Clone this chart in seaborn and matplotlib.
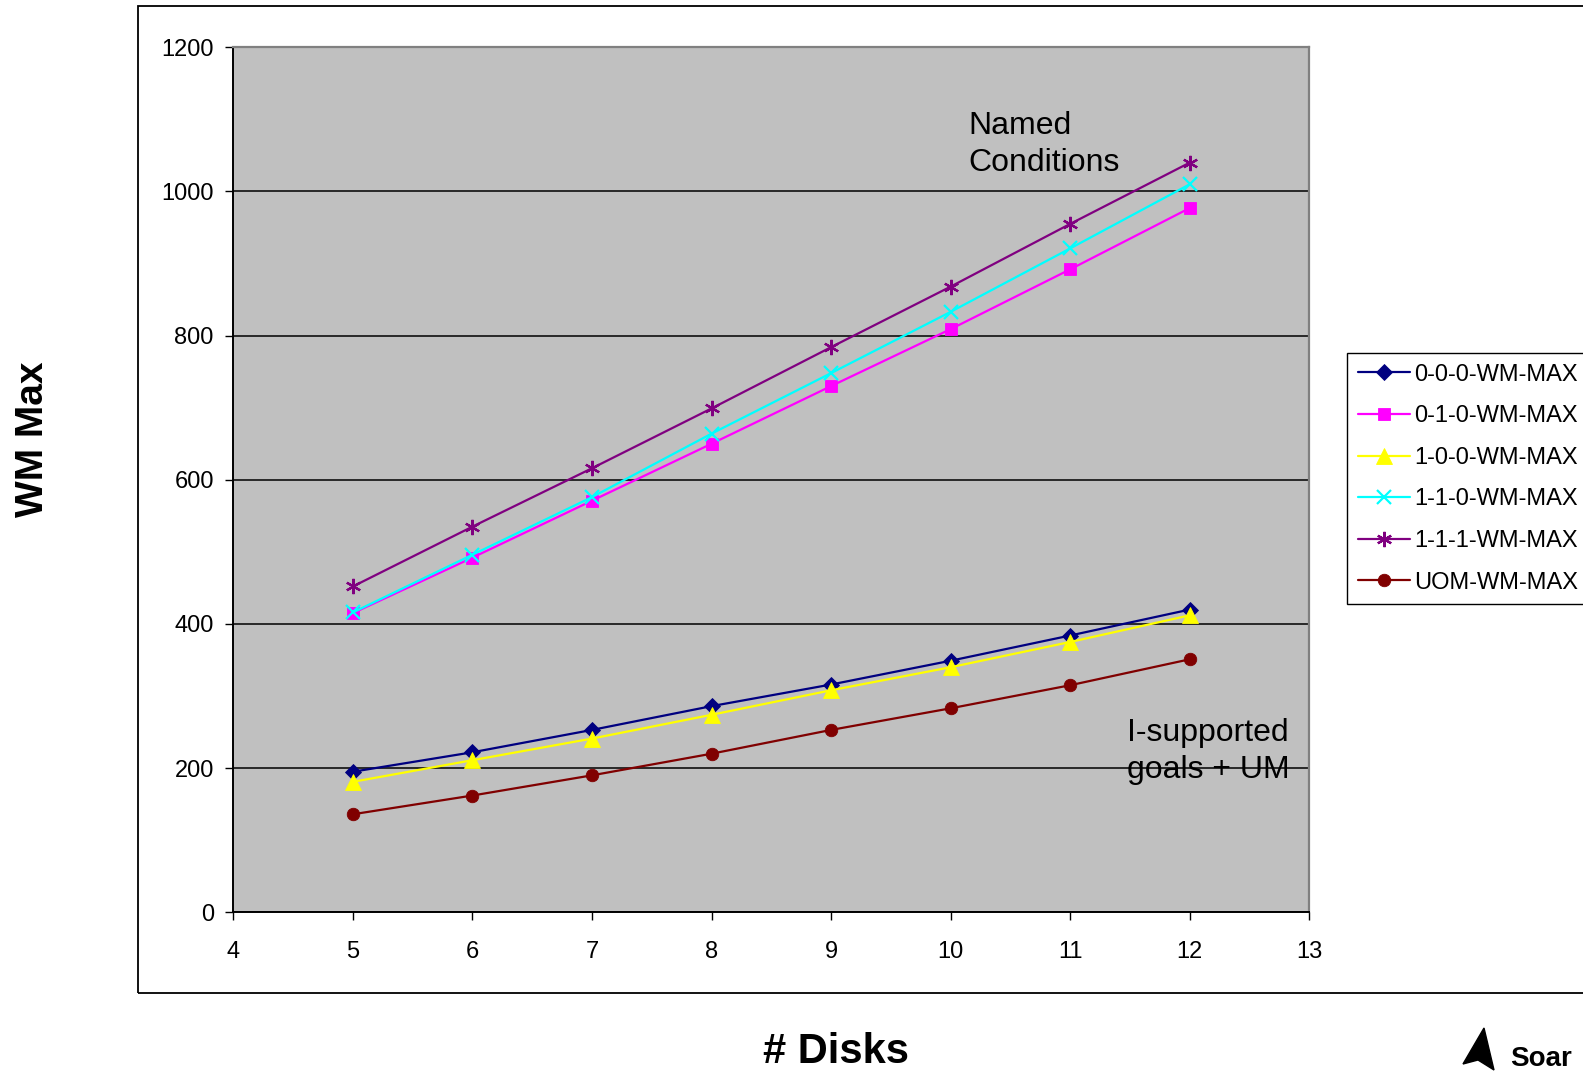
import matplotlib
matplotlib.use("Agg")
import matplotlib.pyplot as plt
import seaborn as sns
import pandas as pd
from matplotlib.patches import Rectangle, Polygon

# ---- data ----
disks = [5, 6, 7, 8, 9, 10, 11, 12]
wm_000 = [195, 222, 253, 286, 316, 349, 384, 420]
wm_010 = [415, 492, 571, 650, 730, 809, 892, 977]
wm_100 = [181, 211, 241, 274, 308, 340, 375, 412]
wm_110 = [416, 496, 576, 664, 748, 833, 921, 1010]
wm_111 = [452, 535, 616, 699, 784, 868, 955, 1040]
wm_uom = [136, 162, 190, 220, 253, 283, 315, 351]

series_labels = ["0-0-0-WM-MAX", "0-1-0-WM-MAX", "1-0-0-WM-MAX",
                 "1-1-0-WM-MAX", "1-1-1-WM-MAX", "UOM-WM-MAX"]
series_values = [wm_000, wm_010, wm_100, wm_110, wm_111, wm_uom]
x_ticks = [4, 5, 6, 7, 8, 9, 10, 11, 12, 13]
y_ticks = [0, 200, 400, 600, 800, 1000, 1200]

colors = ["#000080", "#FF00FF", "#FFFF00", "#00FFFF", "#800080", "#800000"]
markers = ["D", "s", "^", "x", (6, 2, 0), "o"]
msizes = [8.5, 9, 11, 10, 11, 9]

sns.set_style("white")
plt.rcParams["font.family"] = ["Liberation Sans", "DejaVu Sans"]
plt.rcParams["text.color"] = "black"
plt.rcParams["axes.labelcolor"] = "black"
plt.rcParams["xtick.color"] = "black"
plt.rcParams["ytick.color"] = "black"

W, H = 1583, 1072
fig = plt.figure(figsize=(W / 100, H / 100), dpi=100)

# outer chart frame
fig.patches.append(Rectangle((138.3 / W, 1 - 993.3 / H), 2.0, (993.3 - 5.7) / H,
                             transform=fig.transFigure, fill=False,
                             edgecolor="black", linewidth=1.3))

L, R, T, B = 233.3, 1309.3, 47.3, 912.3
ax = fig.add_axes([L / W, 1 - B / H, (R - L) / W, (B - T) / H])
ax.set_facecolor("#C0C0C0")

for lab, vals, c, m, ms in zip(series_labels, series_values, colors, markers, msizes):
    df = pd.DataFrame({"disks": disks, "wm": vals})
    sns.lineplot(data=df, x="disks", y="wm", ax=ax, color=c, marker=m,
                 markersize=ms, markeredgecolor=c, markerfacecolor=c,
                 markeredgewidth=1.6 if m in ("x", (6, 2, 0)) else 0.6,
                 linewidth=1.6, label=lab, legend=False, zorder=3)

ax.set_xlim(4, 13)
ax.set_ylim(0, 1200)
ax.set_xticks(x_ticks)
ax.set_yticks(y_ticks)
ax.set_xticklabels([str(v) for v in x_ticks])
ax.set_yticklabels([str(v) for v in y_ticks])
ax.set_xlabel("")
ax.set_ylabel("")
ax.tick_params(axis="both", direction="out", length=6, width=1, color="black",
               labelsize=17, labelcolor="black")
ax.tick_params(axis="x", pad=15, bottom=True)
ax.tick_params(axis="y", pad=8, left=True)

ax.yaxis.grid(True, color="black", linewidth=1.1)
ax.xaxis.grid(False)
ax.set_axisbelow(True)

for s in ["left", "bottom"]:
    ax.spines[s].set_color("black")
    ax.spines[s].set_linewidth(1.4)
for s in ["top", "right"]:
    ax.spines[s].set_color("#808080")
    ax.spines[s].set_linewidth(1.6)

ax.text(10.145, 1112, "Named\nConditions", fontsize=23, ha="left", va="top",
        color="black", linespacing=1.3)
ax.text(11.475, 269, "I-supported\ngoals + UM", fontsize=23, ha="left", va="top",
        color="black", linespacing=1.3)

handles, labels = ax.get_legend_handles_labels()
if ax.get_legend() is not None:
    ax.get_legend().remove()
leg = fig.legend(handles, labels, loc="upper left",
                 bbox_to_anchor=(1347 / W, 1 - 353 / H), bbox_transform=fig.transFigure,
                 frameon=True, fancybox=False, edgecolor="black", facecolor="white",
                 framealpha=1, fontsize=17, handlelength=2.2, handletextpad=0.2,
                 labelspacing=0.83, borderpad=0.45, borderaxespad=0)
leg.get_frame().set_linewidth(1.0)

fig.text(32.8 / W, 1 - 439 / H, "WM Max", rotation=90, fontsize=28,
         fontweight="bold", ha="center", va="center")
fig.text(836 / W, 1 - 1052 / H, "# Disks", fontsize=30, fontweight="bold",
         ha="center", va="center")

# Soar logo (bottom-right corner)
fig.patches.append(Polygon([(1484 / W, 1 - 1028 / H), (1463 / W, 1 - 1064 / H),
                            (1478 / W, 1 - 1060 / H), (1494 / W, 1 - 1070 / H)],
                           closed=True, transform=fig.transFigure,
                           facecolor="black", edgecolor="black"))
fig.text(1510 / W, 1 - 1066 / H, "Soar", fontsize=20, fontweight="bold",
         ha="left", va="baseline")

fig.savefig("out.png", dpi=100)
